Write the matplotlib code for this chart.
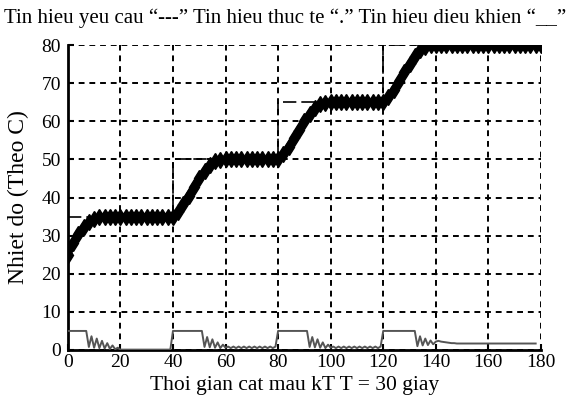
import matplotlib
matplotlib.use('Agg')
import matplotlib.pyplot as plt
import numpy as np

plt.rcParams['font.family'] = ['Liberation Serif', 'DejaVu Serif']

# tin hieu yeu cau (setpoint steps)
ref_k = [0, 40, 80, 120, 180]
ref_val = [35, 50, 65, 80, 80]

# tin hieu thuc te (measured temperature), every 2 samples
temp_k = list(range(0, 181, 2))
temp_val = [25, 28, 30.5, 32.3, 33.6, 34.4, 34.8, 35, 35, 35,
            35, 35, 35, 35, 35, 35, 35, 35, 35, 35,
            35, 36.3, 38.3, 40.5, 42.8, 45, 47, 48.6, 49.5, 49.9,
            50, 50, 50, 50, 50, 50, 50, 50, 50, 50,
            50, 51.3, 53.3, 55.5, 57.8, 60, 62, 63.6, 64.5, 64.9,
            65, 65, 65, 65, 65, 65, 65, 65, 65, 65,
            65, 66.3, 68.3, 70.5, 72.8, 75, 77, 78.6, 79.5, 79.9,
            80, 80, 80, 80, 80, 80, 80, 80, 80, 80,
            80, 80, 80, 80, 80, 80, 80, 80, 80, 80, 80]

# tin hieu dieu khien (control signal), every sample k = 0..178
ctrl_val = ([5, 5, 5, 5, 5, 5, 5, 5]
            + [0.8, 3.6, 0.6, 3.0, 0.5, 2.4, 0.4, 1.8, 0.3, 1.2, 0.2, 0.6]
            + [0.1] * 20
            + [5] * 12
            + [0.8, 3.4, 0.7, 2.8, 0.6, 2.0, 0.5, 1.4, 0.6]
            + [0.9, 0.5, 0.9, 0.5, 0.9, 0.5, 0.9, 0.5, 0.9, 0.5,
               0.9, 0.5, 0.9, 0.5, 0.9, 0.5, 0.9, 0.5, 0.9]
            + [5] * 12
            + [0.8, 3.4, 0.7, 2.8, 0.6, 2.0, 0.5, 1.4, 0.6]
            + [0.9, 0.5, 0.9, 0.5, 0.9, 0.5, 0.9, 0.5, 0.9, 0.5,
               0.9, 0.5, 0.9, 0.5, 0.9, 0.5, 0.9, 0.5, 0.9]
            + [5] * 13
            + [1.0, 3.6, 1.2, 3.0, 1.3, 2.5, 1.5, 2.2]
            + [2.4, 2.2, 2.1, 2.0, 1.9, 1.8, 1.8, 1.7, 1.7, 1.7]
            + [1.7] * 28)
ctrl_k = list(range(len(ctrl_val)))

xticks = [0, 20, 40, 60, 80, 100, 120, 140, 160, 180]
yticks = [0, 10, 20, 30, 40, 50, 60, 70, 80]

fig = plt.figure(figsize=(5.7, 4.0), dpi=100)
ax = fig.add_axes([0.119, 0.125, 0.83, 0.7625])

ax.plot(ref_k, ref_val, drawstyle='steps-post', color='black',
        linestyle=(0, (8, 3)), linewidth=1.2, zorder=3)
ax.plot(temp_k, temp_val, color='black', linewidth=5, marker='d',
        markersize=8, zorder=4)
ax.plot(ctrl_k, ctrl_val, color='#555555', linewidth=1.4, zorder=3)

ax.set_xlim(0, 180)
ax.set_ylim(0, 80)
ax.set_xticks(xticks)
ax.set_yticks(yticks)
ax.grid(True, color='black', linestyle=(0, (3, 2.5)), linewidth=1.4)
ax.set_axisbelow(True)
for s in ['top', 'right']:
    ax.spines[s].set_visible(False)
for s in ['left', 'bottom']:
    ax.spines[s].set_linewidth(2)
ax.tick_params(direction='in', length=4, width=1.5, labelsize=14)
ax.tick_params(axis='x', pad=3)
ax.tick_params(axis='y', pad=5)

ax.set_xlabel('Thoi gian cat mau kT T = 30 giay', fontsize=15.5)
ax.xaxis.set_label_coords(0.479, -0.085)
ax.set_ylabel('Nhiet do (Theo C)', fontsize=17)
ax.yaxis.set_label_coords(-0.082, 0.5)
fig.text(0.5, 0.955, 'Tin hieu yeu cau \u201c---\u201d Tin hieu thuc te \u201c.\u201d Tin hieu dieu khien \u201c__\u201d',
         ha='center', va='center', fontsize=15)

fig.savefig('out.png', dpi=100)
